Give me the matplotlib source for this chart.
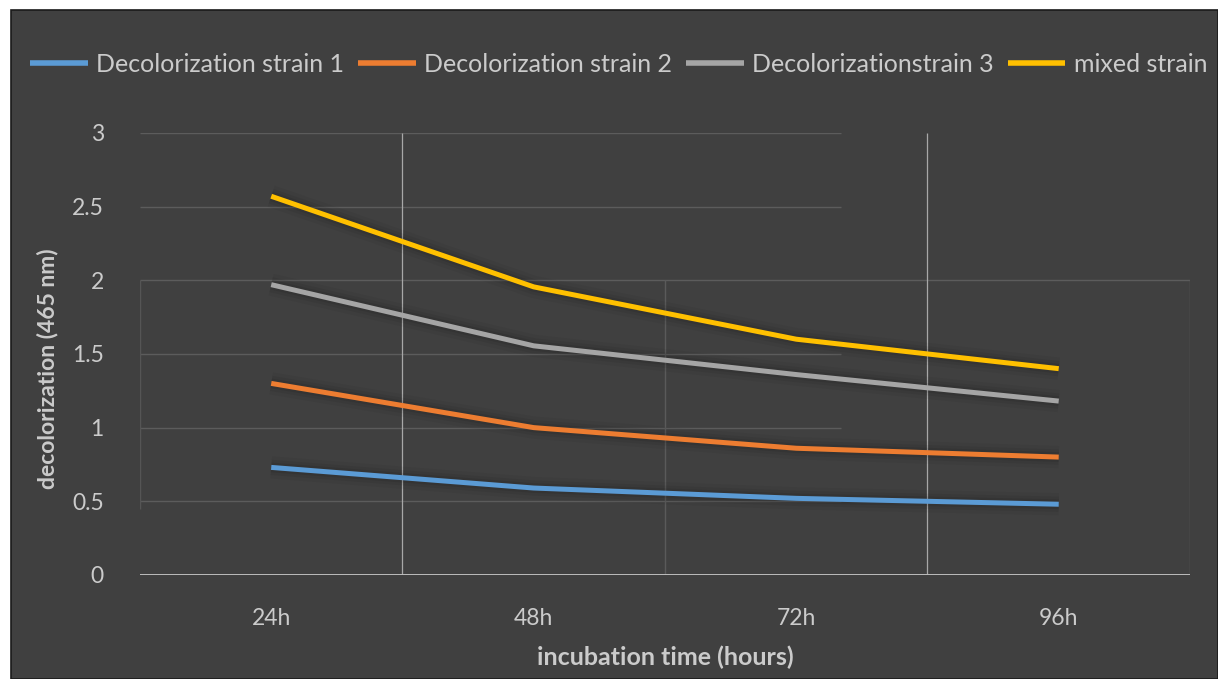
import matplotlib.pyplot as plt
import matplotlib.patheffects as pe
from matplotlib.patches import Rectangle

plt.rcParams['font.family'] = ['Lato', 'DejaVu Sans']

times = ['24h', '48h', '72h', '96h']
strain_1 = [0.73, 0.59, 0.52, 0.48]
strain_2 = [1.30, 1.00, 0.86, 0.80]
strain_3 = [1.97, 1.555, 1.36, 1.18]
mixed = [2.57, 1.955, 1.60, 1.40]

series_names = ['Decolorization strain 1', 'Decolorization strain 2',
                'Decolorizationstrain 3', 'mixed strain']
series_colors = ['#5B9BD5', '#ED7D31', '#A5A5A5', '#FFC000']

bg = '#404040'
text_color = '#cbcbcb'

fig = plt.figure(figsize=(12.18, 6.79), dpi=100, facecolor='white')
# dark chart area with a thin border, leaving a white strip top and left
fig.add_artist(Rectangle((11 / 1218, 0), 1 - 11 / 1218, 1 - 10 / 679,
                         transform=fig.transFigure, facecolor=bg,
                         edgecolor='#1a1a1a', linewidth=1.2, zorder=0))

ax = fig.add_axes([0.1149, 0.1532, 0.8621, 0.6511])
ax.set_facecolor('none')
x = list(range(len(times)))

# gridlines
grid_c = '#5c5c5c'
for yv in [0.5, 1, 1.5, 2.5, 3]:
    ax.hlines(yv, -0.5, 2.17, color=grid_c, lw=1, zorder=1)
ax.hlines(2, -0.5, 3.5, color=grid_c, lw=1, zorder=1)
for xv in [0.5, 2.5]:
    ax.vlines(xv, 0, 3, color='#a8a8a8', lw=0.9, zorder=1)
for xv in [1.5, 3.5]:
    ax.vlines(xv, 0, 2, color='#5a5a5a', lw=1, zorder=1)
ax.vlines(-0.5, 0.45, 2, color='#555555', lw=1, zorder=1)
ax.hlines(0, -0.5, 3.5, color='#bdbdbd', lw=1.4, zorder=2)

shadow = [pe.Stroke(linewidth=16, foreground='black', alpha=0.04),
          pe.Stroke(linewidth=11, foreground='black', alpha=0.06),
          pe.Stroke(linewidth=7, foreground='black', alpha=0.08),
          pe.Normal()]

for vals, name, col in zip([strain_1, strain_2, strain_3, mixed],
                           series_names, series_colors):
    ax.plot(x, vals, color=col, lw=3.6, label=name, solid_capstyle='butt',
            solid_joinstyle='round', path_effects=shadow, zorder=3)

ax.set_xlim(-0.5, 3.5)
ax.set_ylim(0, 3)
ax.set_xticks(x)
ax.set_xticklabels(times)
ax.set_yticks([0, 0.5, 1, 1.5, 2, 2.5, 3])
ax.set_yticklabels(['0', '0.5', '1', '1.5', '2', '2.5', '3'])
ax.tick_params(colors=text_color, labelsize=16.5, length=0)
ax.tick_params(axis='y', pad=26)
ax.tick_params(axis='x', pad=24)
for s in ax.spines.values():
    s.set_visible(False)

ax.set_xlabel('incubation time (hours)', fontsize=18, fontweight='bold',
              color=text_color, labelpad=12)
ax.set_ylabel('decolorization (465 nm)', fontsize=16.5, fontweight='bold',
              color=text_color)
ax.yaxis.set_label_coords(-0.078, 0.466)

handles, labels = ax.get_legend_handles_labels()
leg = fig.legend(handles, labels, loc='center', bbox_to_anchor=(0.508, 0.905),
                 ncol=4, frameon=False, fontsize=18, handlelength=2.3,
                 handletextpad=0.35, columnspacing=0.55)
for t in leg.get_texts():
    t.set_color(text_color)
for h in leg.legend_handles:
    h.set_linewidth(4)
    h.set_path_effects([])

fig.savefig('out.png', dpi=100, facecolor='white')
